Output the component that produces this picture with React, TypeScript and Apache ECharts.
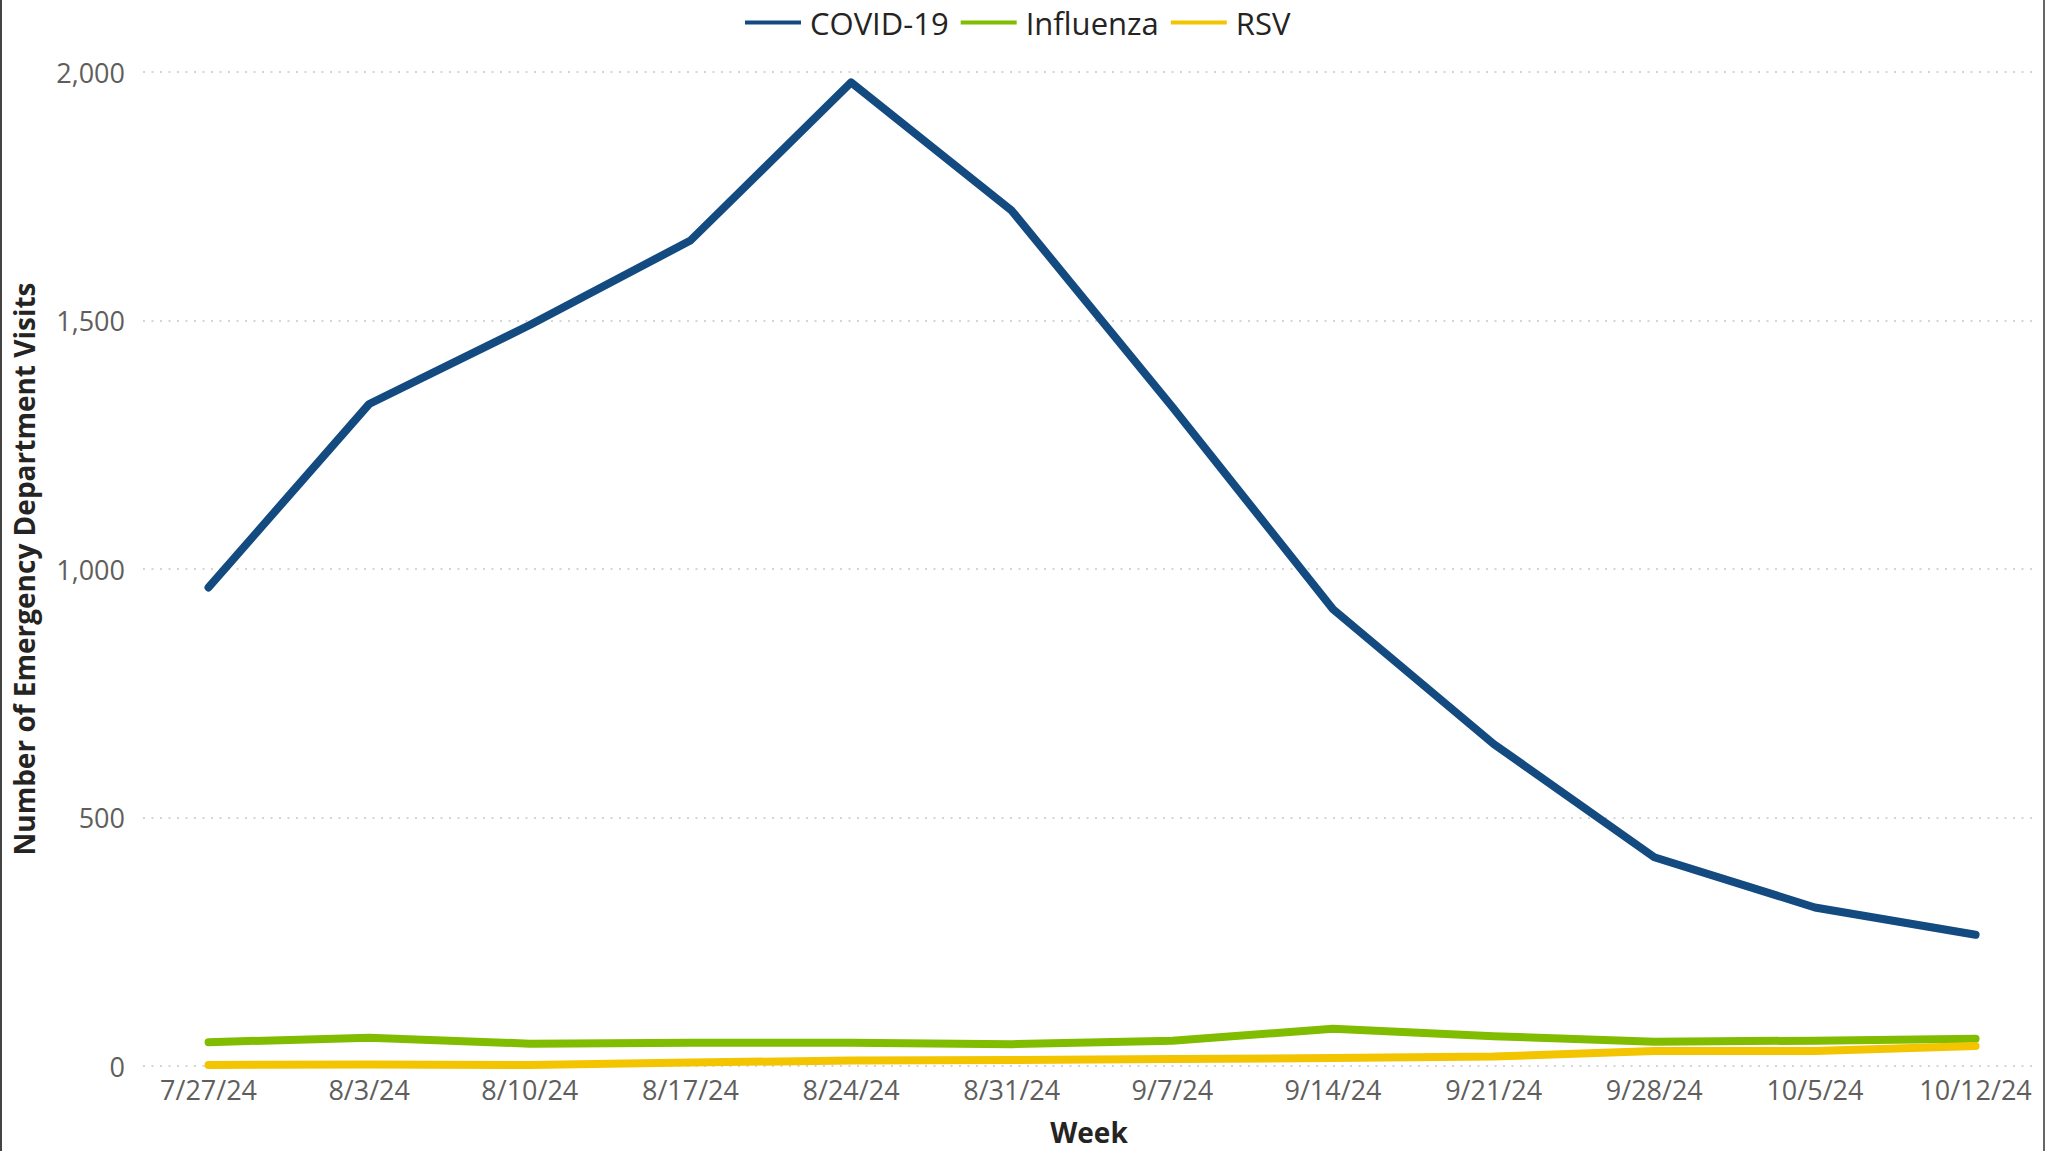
import React, { useEffect, useRef } from "react";
import * as echarts from "echarts";

const weeks = ["7/27/24", "8/3/24", "8/10/24", "8/17/24", "8/24/24", "8/31/24", "9/7/24", "9/14/24", "9/21/24", "9/28/24", "10/5/24", "10/12/24"];
const covid = [963, 1332, 1491, 1661, 1979, 1721, 1326, 919, 648, 420, 319, 264];
const influenza = [48, 57, 45, 47, 47, 44, 51, 75, 60, 49, 51, 55];
const rsv = [2, 3, 2, 7, 11, 12, 14, 16, 19, 30, 30, 40];
const yTicks = [0, 500, 1000, 1500, 2000];

const FONT = "'Open Sans', 'Noto Sans', sans-serif";

export default function App() {
  const ref = useRef<HTMLDivElement>(null);
  useEffect(() => {
    document.body.style.margin = "0";
    const chart = echarts.init(ref.current!, null, { renderer: "svg" });
    const mk = (name: string, data: number[], color: string) => ({
      name,
      type: "line",
      data: data.map((v, i) => [i, v]),
      symbol: "none",
      showSymbol: false,
      lineStyle: { color, width: 8, cap: "round", join: "round" },
      itemStyle: { color },
      emphasis: { disabled: true },
    });
    chart.setOption({
      animation: false,
      backgroundColor: "#ffffff",
      textStyle: { fontFamily: FONT },
      legend: {
        top: 2,
        left: 740,
        itemWidth: 56,
        itemHeight: 14,
        itemGap: 12,
        icon: "path://M0,0L56,0L56,4L0,4Z",
        textStyle: { fontSize: 31, color: "#252423", fontFamily: FONT, padding: [0, 0, 0, 4] },
        data: ["COVID-19", "Influenza", "RSV"],
      },
      grid: { left: 143, right: 10, top: 72, bottom: 80, containLabel: false },
      xAxis: {
        type: "value",
        min: -0.408,
        max: 11.37,
        name: "Week",
        nameLocation: "middle",
        nameGap: 52,
        nameTextStyle: { fontSize: 28, fontWeight: "bold", color: "#252423", fontFamily: FONT },
        axisLine: { show: false },
        axisTick: { show: false },
        splitLine: { show: false },
        axisLabel: {
          customValues: weeks.map((_, i) => i),
          formatter: (v: number) => weeks[Math.round(v)] ?? "",
          fontSize: 27,
          color: "#605E5C",
          margin: 10,
          fontFamily: FONT,
        },
      },
      yAxis: {
        type: "value",
        min: yTicks[0],
        max: yTicks[yTicks.length - 1],
        interval: 500,
        name: "Number of Emergency Department Visits",
        nameLocation: "middle",
        nameGap: 105,
        nameTextStyle: { fontSize: 28, fontWeight: "bold", color: "#252423", fontFamily: FONT },
        axisLine: { show: false },
        axisTick: { show: false },
        axisLabel: {
          fontSize: 27,
          color: "#605E5C",
          margin: 18,
          fontFamily: FONT,
          formatter: (v: number) => v.toLocaleString("en-US"),
        },
        splitLine: { lineStyle: { color: "#c8c8c8", width: 1.5, type: [2, 6.5] } },
      },
      graphic: [
        { type: "rect", shape: { x: 0, y: 0, width: 2, height: 1151 }, style: { fill: "#444444" } },
        { type: "rect", shape: { x: 2043, y: 0, width: 2, height: 1151 }, style: { fill: "#666666" } },
      ],
      series: [
        mk("COVID-19", covid, "#134A80"),
        mk("Influenza", influenza, "#80BC00"),
        mk("RSV", rsv, "#F2C500"),
      ],
    });
    return () => chart.dispose();
  }, []);
  return <div ref={ref} style={{ position: "absolute", left: 0, top: 0, width: 2045, height: 1151 }} />;
}
